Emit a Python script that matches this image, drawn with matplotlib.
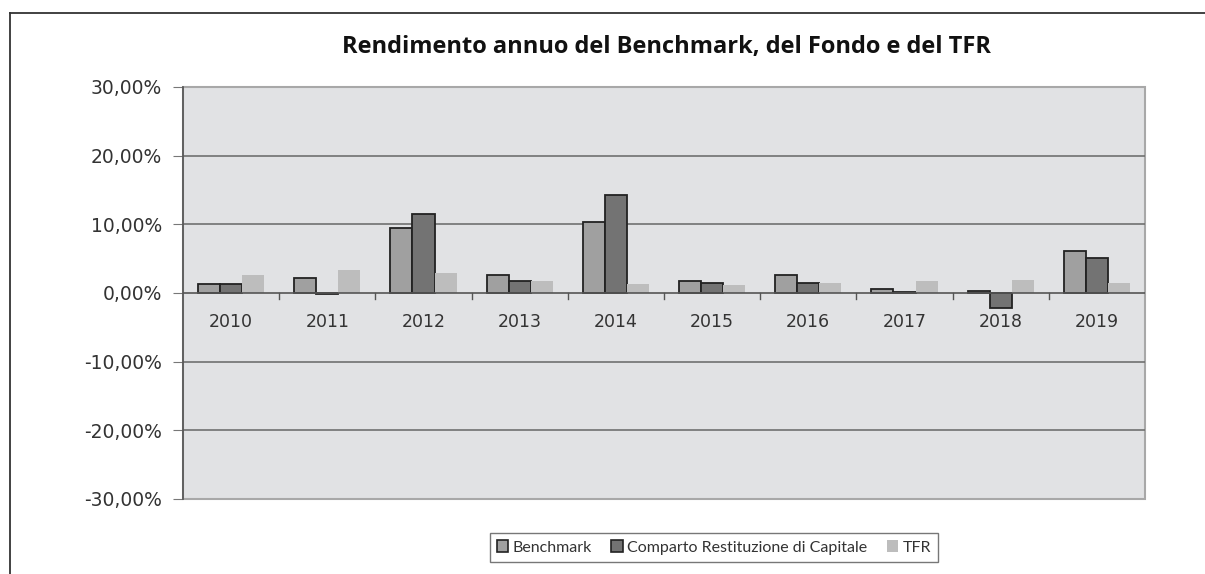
import matplotlib
matplotlib.use("Agg")
import matplotlib.pyplot as plt
import numpy as np
from matplotlib.ticker import FuncFormatter, FixedLocator
from matplotlib.lines import Line2D
from matplotlib.patches import Rectangle

years = ["2010", "2011", "2012", "2013", "2014", "2015", "2016", "2017", "2018", "2019"]
benchmark = [1.35, 2.17, 9.42, 2.65, 10.3, 1.79, 2.66, 0.63, 0.34, 6.14]
comparto = [1.25, -0.10, 11.5, 1.68, 14.25, 1.50, 1.50, 0.20, -2.17, 5.03]
tfr = [2.6, 3.42, 2.9, 1.78, 1.3, 1.2, 1.45, 1.79, 1.93, 1.45]
series_names = ["Benchmark", "Comparto Restituzione di Capitale", "TFR"]
title = "Rendimento annuo del Benchmark, del Fondo e del TFR"

fig = plt.figure(figsize=(12.05, 5.74), dpi=100)
ax = fig.add_axes([183/1205, 1-499/574, (1145-183)/1205, (499-87)/574])
ax.set_facecolor("#e1e2e4")

x = np.arange(len(years))
w = 0.23
ax.bar(x - w, benchmark, w, color="#a0a0a0", edgecolor="#222222", linewidth=1.3, zorder=3)
ax.bar(x, comparto, w, color="#737373", edgecolor="#222222", linewidth=1.3, zorder=3)
ax.bar(x + w, tfr, w, color="#bdbdbd", edgecolor="none", zorder=3)

ax.set_xlim(-0.5, len(years) - 0.5)
ax.set_ylim(-30, 30)
ax.yaxis.set_major_locator(FixedLocator([-30, -20, -10, 0, 10, 20, 30]))
ax.yaxis.set_major_formatter(FuncFormatter(lambda v, p: f"{v:.2f}%".replace(".", ",")))
for yv in [-20, -10, 10, 20]:
    ax.axhline(yv, color="#707070", linewidth=1.2, zorder=1)

for s in ["top", "right", "bottom"]:
    ax.spines[s].set_visible(False)
ax.spines["left"].set_color("#555555")
ax.spines["left"].set_linewidth(1.2)
ax.add_patch(Rectangle((0, 0), 1, 1, transform=ax.transAxes, fill=False,
                       edgecolor="#a8a8a8", linewidth=1.5, zorder=0.5, clip_on=False))
ax.axhline(0, color="#555555", linewidth=1.2, zorder=4)

ax.tick_params(axis="y", direction="out", length=7, color="#777777",
               labelsize=13.5, labelcolor="#333333", pad=8)
ax.set_xticks(x)
ax.set_xticklabels([])
ax.tick_params(axis="x", which="major", length=0)
for xb in np.arange(0.5, len(years) - 0.5, 1.0):
    ax.plot([xb, xb], [0, -0.9], color="#555555", linewidth=1.0, zorder=4, clip_on=False)
for i, yr in enumerate(years):
    ax.text(i, -4.2, yr, ha="center", va="center", fontsize=12.5, color="#333333", zorder=5)

fig.text(666/1205, 1-47/574, title, ha="center", va="center", fontsize=17,
         fontweight="bold", family="Open Sans", color="#111111")

handles = [Rectangle((0, 0), 1, 1, facecolor="#a0a0a0", edgecolor="#222222", linewidth=1.2),
           Rectangle((0, 0), 1, 1, facecolor="#737373", edgecolor="#222222", linewidth=1.2),
           Rectangle((0, 0), 1, 1, facecolor="#bdbdbd", edgecolor="none")]
leg = fig.legend(handles, series_names, loc="center", bbox_to_anchor=(714/1205, 1-547.5/574),
                 ncol=3, frameon=True, fancybox=False, edgecolor="#555555",
                 prop={"family": "Lato", "size": 11.5}, handlelength=0.7, handleheight=0.7,
                 handletextpad=0.3, columnspacing=1.2, borderpad=0.45)
leg.get_frame().set_linewidth(1.0)
for t in leg.get_texts():
    t.set_color("#333333")

fig.add_artist(Line2D([10/1205, 1.0], [1-13/574, 1-13/574], color="#333333", linewidth=1.3))
fig.add_artist(Line2D([10/1205, 10/1205], [0, 1-13/574], color="#333333", linewidth=1.3))

fig.savefig("out.png", dpi=100)
